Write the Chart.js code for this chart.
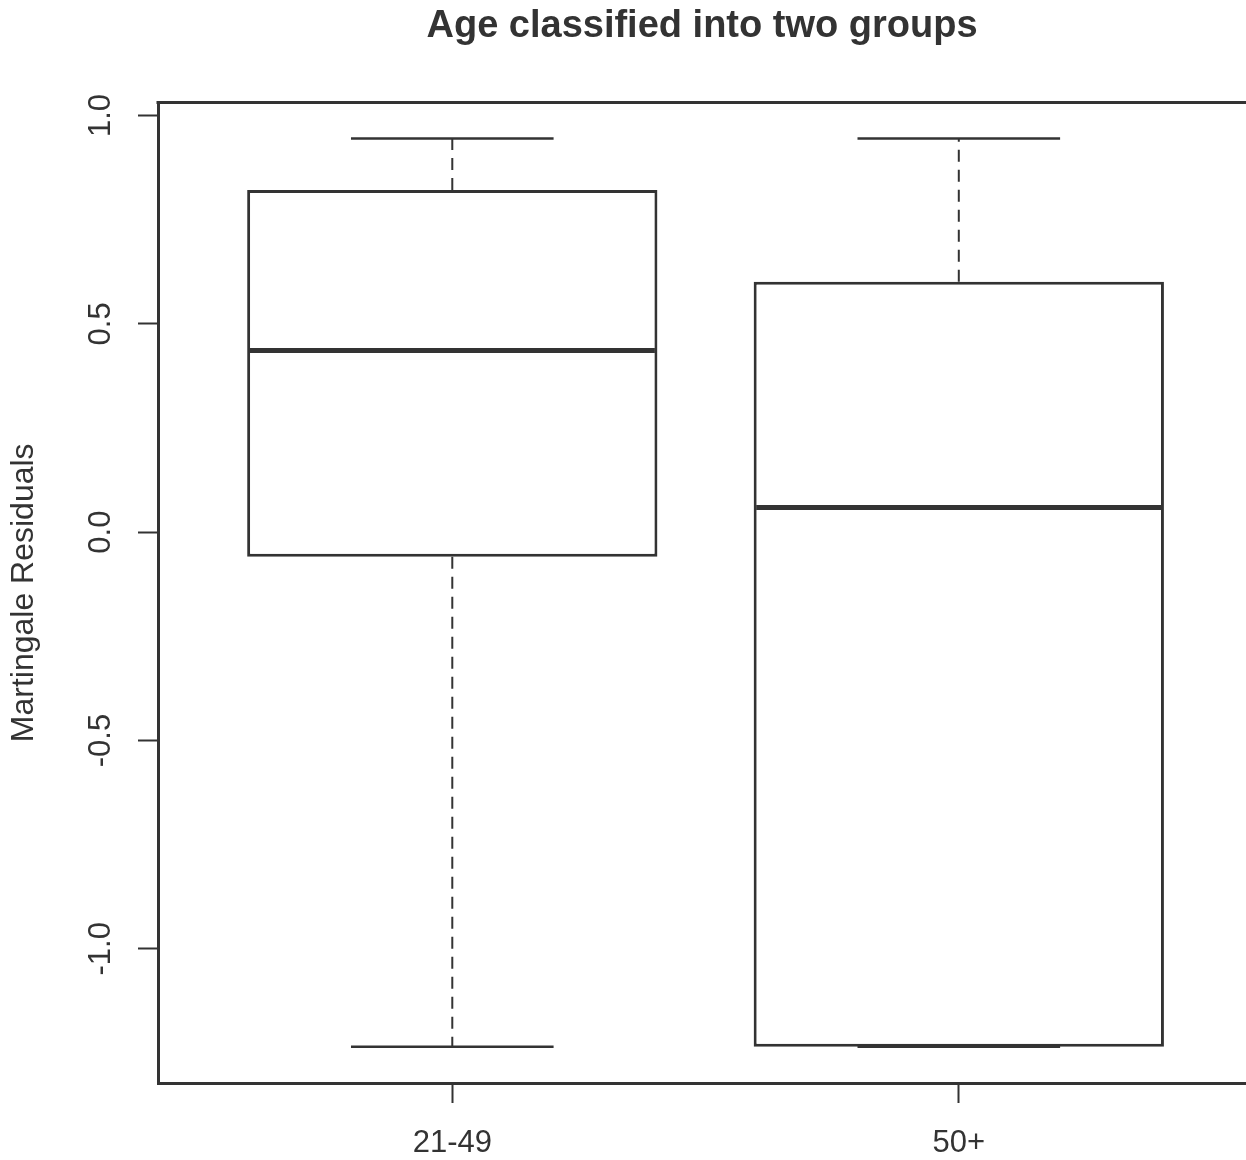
<!DOCTYPE html>
<html>
<head>
<meta charset="utf-8">
<script src="https://cdn.jsdelivr.net/npm/chart.js@4.4.1/dist/chart.umd.min.js"></script>
<style>
  html, body { margin: 0; padding: 0; background: #fff; }
  canvas { display: block; }
</style>
</head>
<body>
<canvas id="boxChart" width="1246" height="1160"></canvas>
<script>
// Boxplot summary per age group
const groups = ['21-49', '50+'];
const whiskerLow = [-1.235, -1.235];
const q1 = [-0.059, -1.235];
const median = [0.436, 0.059];
const q3 = [0.821, 0.601];
const whiskerHigh = [0.945, 0.945];
const yTicks = [-1.0, -0.5, 0.0, 0.5, 1.0];

const ink = '#333333';
const fontFamily = "'Liberation Sans', Arial, sans-serif";

// box and staple half widths, in x units
const BOX_HALF = 0.4;
const CAP_HALF = 0.2;

// medians, whiskers, staples and the top frame line
const boxExtras = {
    id: 'boxExtras',
    afterDatasetsDraw(chart) {
        const { ctx, scales: { x, y } } = chart;
        ctx.save();
        ctx.strokeStyle = ink;
        groups.forEach((g, i) => {
            const pos = i + 1;
            const cx = x.getPixelForValue(pos);
            const bl = x.getPixelForValue(pos - BOX_HALF);
            const br = x.getPixelForValue(pos + BOX_HALF);
            const cl = x.getPixelForValue(pos - CAP_HALF);
            const cr = x.getPixelForValue(pos + CAP_HALF);

            // dashed whiskers
            ctx.lineWidth = 2;
            ctx.setLineDash([12, 8]);
            if (whiskerHigh[i] > q3[i]) {
                ctx.beginPath();
                ctx.moveTo(cx, y.getPixelForValue(q3[i]));
                ctx.lineTo(cx, y.getPixelForValue(whiskerHigh[i]));
                ctx.stroke();
            }
            if (whiskerLow[i] < q1[i]) {
                ctx.beginPath();
                ctx.moveTo(cx, y.getPixelForValue(q1[i]));
                ctx.lineTo(cx, y.getPixelForValue(whiskerLow[i]));
                ctx.stroke();
            }
            ctx.setLineDash([]);

            // staples
            ctx.lineWidth = 2.5;
            [whiskerHigh[i], whiskerLow[i]].forEach(v => {
                const py = y.getPixelForValue(v);
                ctx.beginPath();
                ctx.moveTo(cl, py);
                ctx.lineTo(cr, py);
                ctx.stroke();
            });

            // median
            ctx.lineWidth = 5;
            const my = y.getPixelForValue(median[i]);
            ctx.beginPath();
            ctx.moveTo(bl, my);
            ctx.lineTo(br, my);
            ctx.stroke();
        });

        // top side of the frame
        const area = chart.chartArea;
        ctx.lineWidth = 3;
        ctx.beginPath();
        ctx.moveTo(area.left - 1.5, area.top);
        ctx.lineTo(area.right, area.top);
        ctx.stroke();
        ctx.restore();
    }
};

const ctx = document.getElementById('boxChart').getContext('2d');

new Chart(ctx, {
    type: 'bar',
    data: {
        datasets: [{
            data: groups.map((g, i) => ({ x: i + 1, y: [q1[i], q3[i]] })),
            backgroundColor: '#ffffff',
            borderColor: ink,
            borderWidth: 3,
            borderSkipped: false,
            barPercentage: 1,
            categoryPercentage: 0.81
        }]
    },
    options: {
        responsive: false,
        animation: false,
        layout: { padding: 0 },
        plugins: {
            legend: { display: false },
            tooltip: { enabled: false },
            title: {
                display: true,
                fullSize: false,
                text: 'Age classified into two groups',
                color: ink,
                font: { family: fontFamily, size: 38, weight: 'bold' },
                padding: { top: 4, bottom: 53 }
            }
        },
        scales: {
            x: {
                type: 'linear',
                min: 0.419,
                max: 2.567,
                offset: false,
                grid: {
                    offset: false,
                    drawOnChartArea: false,
                    drawTicks: true,
                    tickLength: 20,
                    tickWidth: 2,
                    tickColor: ink
                },
                border: { display: true, color: ink, width: 3 },
                afterBuildTicks: scale => {
                    scale.ticks = groups.map((g, i) => ({ value: i + 1 }));
                },
                afterFit: scale => { scale.height = 77; },
                ticks: {
                    autoSkip: false,
                    maxRotation: 0,
                    padding: 22,
                    color: ink,
                    font: { family: fontFamily, size: 31 },
                    callback: v => groups[v - 1]
                }
            },
            y: {
                type: 'linear',
                min: -1.322,
                max: 1.031,
                grid: {
                    drawOnChartArea: false,
                    drawTicks: true,
                    tickLength: 20,
                    tickWidth: 2,
                    tickColor: ink
                },
                border: { display: true, color: ink, width: 3 },
                afterBuildTicks: scale => {
                    scale.ticks = yTicks.map(v => ({ value: v }));
                },
                afterFit: scale => { scale.width = 158; },
                ticks: {
                    minRotation: 90,
                    maxRotation: 90,
                    crossAlign: 'center',
                    padding: 10,
                    color: ink,
                    font: { family: fontFamily, size: 31 },
                    callback: v => v.toFixed(1)
                },
                title: {
                    display: true,
                    text: 'Martingale Residuals',
                    color: ink,
                    font: { family: fontFamily, size: 32 },
                    padding: { top: 5, bottom: 0 }
                }
            }
        }
    },
    plugins: [boxExtras]
});
</script>
</body>
</html>
